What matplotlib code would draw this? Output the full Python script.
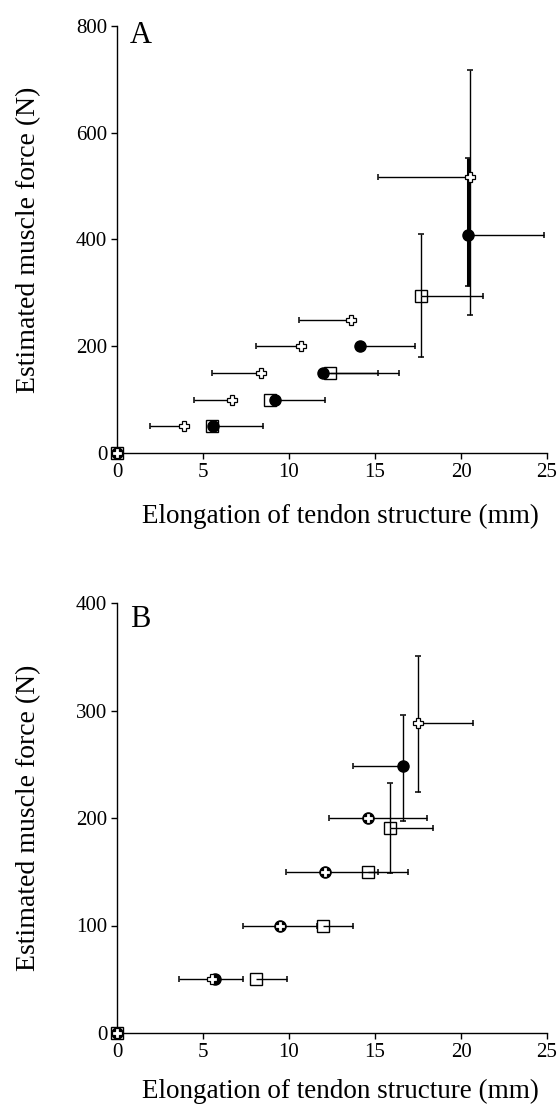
import matplotlib
matplotlib.use("Agg")
import matplotlib.pyplot as plt
import numpy as np

plt.rcParams['font.family'] = ['Liberation Serif', 'DejaVu Serif']

# ---------------- Panel A data ----------------
A_circ_x = [0, 5.6, 9.2, 12.0, 14.1, 20.4]
A_circ_y = [0, 50, 100, 150, 200, 408]
A_circ_xerr_lo = [0, 0, 0, 0, 0, 0]
A_circ_xerr_hi = [0, 2.9, 2.9, 3.2, 3.2, 4.4]
A_circ_yerr_lo = [0, 0, 0, 0, 0, 96]
A_circ_yerr_hi = [0, 0, 0, 0, 0, 145]

A_sq_x = [0, 5.5, 8.9, 12.4, 17.7]
A_sq_y = [0, 50, 100, 150, 295]
A_sq_xerr_lo = [0, 0, 0, 0, 0]
A_sq_xerr_hi = [0, 0, 0, 4.0, 3.6]
A_sq_yerr_lo = [0, 0, 0, 0, 115]
A_sq_yerr_hi = [0, 0, 0, 0, 115]

A_cr_x = [0, 3.9, 6.7, 8.4, 10.7, 13.6, 20.5]
A_cr_y = [0, 50, 100, 150, 200, 250, 517]
A_cr_xerr_lo = [0, 2.0, 2.2, 2.9, 2.6, 3.0, 5.3]
A_cr_xerr_hi = [0, 0, 0, 0, 0, 0, 0]
A_cr_yerr_lo = [0, 0, 0, 0, 0, 0, 259]
A_cr_yerr_hi = [0, 0, 0, 0, 0, 0, 201]

# ---------------- Panel B data ----------------
B_circ_x = [0, 5.7, 9.5, 12.1, 14.6, 16.6]
B_circ_y = [0, 50, 100, 150, 200, 248]
B_circ_xerr_lo = [0, 0, 0, 0, 0, 2.9]
B_circ_xerr_hi = [0, 1.6, 2.1, 3.1, 3.4, 0]
B_circ_yerr_lo = [0, 0, 0, 0, 0, 51]
B_circ_yerr_hi = [0, 0, 0, 0, 0, 48]

B_sq_x = [0, 8.1, 12.0, 14.6, 15.9]
B_sq_y = [0, 50, 100, 150, 191]
B_sq_xerr_lo = [0, 0, 0, 0, 0]
B_sq_xerr_hi = [0, 1.8, 1.7, 2.3, 2.5]
B_sq_yerr_lo = [0, 0, 0, 0, 42]
B_sq_yerr_hi = [0, 0, 0, 0, 42]

B_cr_x = [0, 5.5, 9.5, 12.1, 14.6, 17.5]
B_cr_y = [0, 50, 100, 150, 200, 288]
B_cr_xerr_lo = [0, 1.9, 2.2, 2.3, 2.3, 0]
B_cr_xerr_hi = [0, 0, 0, 0, 0, 3.2]
B_cr_yerr_lo = [0, 0, 0, 0, 0, 64]
B_cr_yerr_hi = [0, 0, 0, 0, 0, 63]

x_ticks = [0, 5, 10, 15, 20, 25]
A_y_ticks = [0, 200, 400, 600, 800]
B_y_ticks = [0, 100, 200, 300, 400]

xlabel = "Elongation of tendon structure (mm)"
ylabel = "Estimated muscle force (N)"

fig = plt.figure(figsize=(5.6, 11.07), dpi=100)
axA = fig.add_axes([117/560, 1-453/1107, 430/560, 427/1107])
axB = fig.add_axes([117/560, 1-1033/1107, 430/560, 430/1107])


def bars(ax, x, y, lo, hi, axis, lw=1.0, z=2):
    kw = dict(color='black', lw=lw, zorder=z, clip_on=False, solid_capstyle='butt')
    capkw = dict(color='black', linestyle='none', ms=5, mew=1.1, zorder=z, clip_on=False)
    for xi, yi, l, h in zip(x, y, lo, hi):
        for d, sgn in ((l, -1), (h, 1)):
            if d <= 0:
                continue
            if axis == 'x':
                end = xi + sgn * d
                ax.plot([xi, end], [yi, yi], **kw)
                ax.plot([end], [yi], marker='|', **capkw)
            else:
                end = yi + sgn * d
                ax.plot([xi, xi], [yi, end], **kw)
                ax.plot([xi], [end], marker='_', **capkw)


def draw(ax, cx, cy, cxl, cxh, cyl, cyh, sx, sy, sxl, sxh, syl, syh,
         px, py, pxl, pxh, pyl, pyh, thick_circ_y):
    bars(ax, sx, sy, sxl, sxh, 'x')
    bars(ax, sx, sy, syl, syh, 'y')
    bars(ax, px, py, pxl, pxh, 'x')
    bars(ax, px, py, pyl, pyh, 'y')
    bars(ax, cx, cy, cxl, cxh, 'x')
    bars(ax, cx, cy, cyl, cyh, 'y', lw=2.2 if thick_circ_y else 1.0, z=2.1)
    ax.plot(sx, sy, linestyle='none', marker='s', ms=9, mfc='none', mec='black',
            mew=1, zorder=3, clip_on=False)
    ax.plot(cx, cy, linestyle='none', marker='o', ms=8, mfc='black', mec='black',
            zorder=4, clip_on=False)
    ax.plot(px, py, linestyle='none', marker='P', ms=7.8, mfc='white', mec='black',
            mew=0.9, zorder=5, clip_on=False)


draw(axA, A_circ_x, A_circ_y, A_circ_xerr_lo, A_circ_xerr_hi, A_circ_yerr_lo, A_circ_yerr_hi,
     A_sq_x, A_sq_y, A_sq_xerr_lo, A_sq_xerr_hi, A_sq_yerr_lo, A_sq_yerr_hi,
     A_cr_x, A_cr_y, A_cr_xerr_lo, A_cr_xerr_hi, A_cr_yerr_lo, A_cr_yerr_hi, True)
draw(axB, B_circ_x, B_circ_y, B_circ_xerr_lo, B_circ_xerr_hi, B_circ_yerr_lo, B_circ_yerr_hi,
     B_sq_x, B_sq_y, B_sq_xerr_lo, B_sq_xerr_hi, B_sq_yerr_lo, B_sq_yerr_hi,
     B_cr_x, B_cr_y, B_cr_xerr_lo, B_cr_xerr_hi, B_cr_yerr_lo, B_cr_yerr_hi, False)

for ax, yt, letter, ly, xlp in [(axA, A_y_ticks, 'A', (453 - 43) / 427, 16),
                                (axB, B_y_ticks, 'B', (1033 - 627) / 430, 12)]:
    ax.set_xlim(0, 25)
    ax.set_ylim(0, yt[-1])
    ax.set_xticks(x_ticks)
    ax.set_yticks(yt)
    ax.spines['top'].set_visible(False)
    ax.spines['right'].set_visible(False)
    for s in ('left', 'bottom'):
        ax.spines[s].set_linewidth(1.0)
    ax.tick_params(axis='both', direction='out', length=4, width=1, labelsize=15)
    ax.tick_params(axis='y', pad=3)
    ax.tick_params(axis='x', pad=3)
    ax.set_xlabel(xlabel, fontsize=19.5, labelpad=xlp)
    ax.xaxis.label.set_x((340 - 117) / 430)
    ax.set_ylabel(ylabel, fontsize=20, labelpad=25)
    ax.text(0.03, ly, letter, transform=ax.transAxes, fontsize=22,
            ha='left', va='baseline')

fig.savefig('out.png', dpi=100)
